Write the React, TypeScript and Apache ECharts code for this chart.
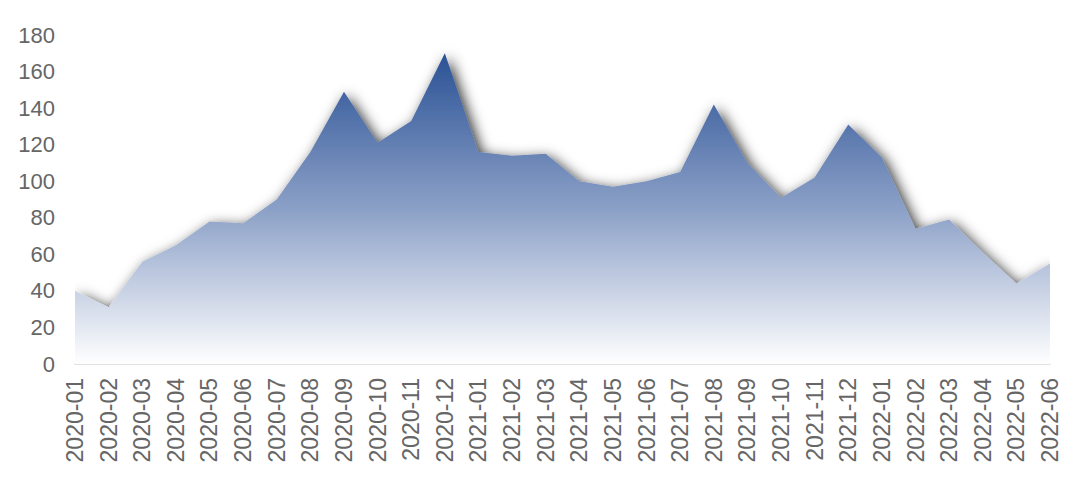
import React, { useEffect, useRef } from "react";
import * as echarts from "echarts";

const categories = [
  "2020-01", "2020-02", "2020-03", "2020-04", "2020-05", "2020-06",
  "2020-07", "2020-08", "2020-09", "2020-10", "2020-11", "2020-12",
  "2021-01", "2021-02", "2021-03", "2021-04", "2021-05", "2021-06",
  "2021-07", "2021-08", "2021-09", "2021-10", "2021-11", "2021-12",
  "2022-01", "2022-02", "2022-03", "2022-04", "2022-05", "2022-06",
];

const values = [
  40, 31, 56, 65, 78, 77,
  90, 116, 149, 121, 133, 170,
  116, 114, 115, 100, 97, 100,
  105, 142, 110, 91, 102, 131,
  113, 74, 79, 61, 44, 55,
];

const yMin = 0;
const yMax = 180;
const yInterval = 20;

export default function App() {
  const ref = useRef<HTMLDivElement>(null);

  useEffect(() => {
    if (!ref.current) return;
    const chart = echarts.init(ref.current, null, { renderer: "svg" });
    chart.setOption({
      animation: false,
      backgroundColor: "#ffffff",
      grid: { left: 67, right: 22, top: 27, bottom: 126 },
      xAxis: {
        type: "category",
        data: categories,
        boundaryGap: false,
        axisLine: { show: true, lineStyle: { color: "#d9d9d9", width: 1.5 } },
        axisTick: { show: false },
        axisLabel: {
          rotate: 90,
          interval: 0,
          color: "#666666",
          fontSize: 23,
          fontFamily: "Liberation Sans, Arial, sans-serif",
          margin: 14,
        },
        splitLine: { show: false },
      },
      yAxis: {
        type: "value",
        min: yMin,
        max: yMax,
        interval: yInterval,
        axisLine: { show: false },
        axisTick: { show: false },
        splitLine: { show: false },
        axisLabel: {
          color: "#666666",
          fontSize: 22,
          fontFamily: "Liberation Sans, Arial, sans-serif",
          margin: 20,
        },
      },
      series: [
        {
          type: "line",
          data: values,
          symbol: "none",
          lineStyle: { width: 0 },
          areaStyle: {
            opacity: 1,
            color: new echarts.graphic.LinearGradient(0, 0, 0, 1, [
              { offset: 0, color: "#2a5195" },
              { offset: 0.5, color: "#8ba0c7" },
              { offset: 1, color: "#ffffff" },
            ]),
            shadowColor: "rgba(0,0,0,0.85)",
            shadowBlur: 14,
            shadowOffsetX: 4,
            shadowOffsetY: 4,
          },
        },
      ],
    });
    return () => chart.dispose();
  }, []);

  return <div ref={ref} style={{ width: 1064, height: 482 }} />;
}
